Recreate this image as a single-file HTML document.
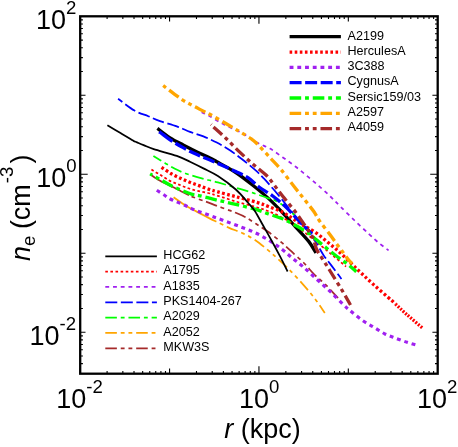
<!DOCTYPE html>
<html><head><meta charset="utf-8"><title>ne profiles</title>
<style>html,body{margin:0;padding:0;background:#fff;}body{width:458px;height:447px;overflow:hidden;font-family:"Liberation Sans",sans-serif;}</style>
</head><body>
<svg width="458" height="447" viewBox="0 0 458 447" style="display:block;will-change:transform;transform:translateZ(0)">
<rect width="458" height="447" fill="#fff"/>
<g fill="none" stroke-linecap="butt" stroke-linejoin="round">
<path d="M157.4,128.4 C159.5,130.0 165.7,135.0 170.1,137.8 C174.5,140.6 179.1,142.8 183.6,145.2 C188.1,147.5 192.6,149.8 197.0,151.9 C201.4,154.0 206.7,156.4 210.0,158.0 C213.3,159.6 212.5,159.3 216.8,161.7 C221.1,164.1 229.4,168.3 235.8,172.5 C242.2,176.7 249.6,182.7 255.0,187.0 C260.4,191.3 263.9,194.3 268.4,198.4 C272.9,202.5 277.3,207.1 281.8,211.8 C286.3,216.5 290.8,221.7 295.3,226.6 C299.8,231.5 305.2,237.0 308.7,241.4 C312.1,245.8 314.8,251.0 316.0,252.9" stroke="#000" stroke-width="3.3"/>
<path d="M210.0,125.8 L212.4,123.5" stroke="#b05050" stroke-width="0.8"/>
<path d="M151.4,169.5 C152.8,170.4 157.1,173.0 160.1,174.8 C163.1,176.7 166.4,179.0 169.5,180.6 C172.6,182.2 175.8,183.3 178.9,184.6 C182.0,185.9 185.2,187.2 188.3,188.3 C191.4,189.4 194.4,190.1 197.7,190.9 C201.0,191.7 204.6,192.2 208.0,193.0 C211.4,193.8 213.3,194.4 217.9,195.8 C222.5,197.2 229.8,199.7 235.8,201.5 C241.8,203.3 248.3,204.8 253.7,206.4 C259.1,208.0 263.2,209.1 268.4,211.2 C273.6,213.3 279.7,216.1 285.0,219.0 C290.3,221.9 294.2,224.5 300.0,228.8 C305.8,233.1 314.2,240.1 320.0,244.8 C325.8,249.6 330.7,253.7 335.0,257.3 C339.3,260.9 344.2,265.1 346.0,266.6" stroke="#f00" stroke-width="1.75" stroke-dasharray="2.70,2.40" stroke-dashoffset="0"/>
<path d="M201.6,112.2 C202.8,112.8 205.3,113.8 209.0,115.8 C212.7,117.8 217.9,121.3 223.6,124.3 C229.3,127.2 237.4,130.4 243.0,133.5 C248.6,136.6 252.5,140.1 257.0,142.6 C261.5,145.1 265.8,146.2 270.0,148.6 C274.2,151.0 278.3,154.3 282.5,157.2 C286.7,160.1 290.8,163.0 295.0,166.2 C299.2,169.4 303.4,172.9 307.6,176.4 C311.8,179.9 316.2,183.7 320.1,187.1 C324.0,190.5 327.6,193.8 330.9,197.0 C334.2,200.2 336.1,202.2 340.0,206.1 C343.9,210.0 349.8,215.8 354.6,220.5 C359.4,225.2 364.9,230.3 369.0,234.1 C373.1,237.9 376.2,240.8 379.5,243.5 C382.8,246.2 387.1,249.2 388.6,250.4" stroke="#a020f0" stroke-width="1.75" stroke-dasharray="3.86,3.86" stroke-dashoffset="0"/>
<path d="M118.1,98.7 C120.8,100.7 129.5,107.7 134.5,110.6 C139.5,113.5 144.1,114.5 148.3,116.2 C152.6,118.0 155.2,119.4 160.0,121.1 C164.8,122.8 171.8,124.6 176.8,126.4 C181.8,128.2 185.6,130.2 190.0,131.9 C194.4,133.6 198.9,134.6 203.4,136.4 C207.9,138.2 212.3,140.2 216.8,142.6 C221.3,144.9 225.8,147.5 230.3,150.5 C234.8,153.5 239.2,157.0 243.7,160.5 C248.2,164.0 253.8,168.7 257.1,171.7 C260.5,174.7 261.6,176.1 263.8,178.4 C266.0,180.7 268.1,183.0 270.4,185.7 C272.7,188.4 275.1,191.1 277.8,194.4 C280.5,197.7 283.2,201.0 286.8,205.5 C290.4,210.0 295.1,216.1 299.3,221.2 C303.5,226.3 308.0,230.4 312.0,236.0 C316.0,241.6 320.1,250.0 323.4,254.9 C326.6,259.8 328.5,261.6 331.5,265.6 C334.5,269.6 339.8,276.8 341.5,279.0" stroke="#00f" stroke-width="1.75" stroke-dasharray="11.98,3.56" stroke-dashoffset="6.5"/>
<path d="M153.4,156.0 C155.4,157.2 161.9,161.3 165.5,163.4 C169.1,165.5 171.6,167.1 174.9,168.8 C178.2,170.5 182.0,172.2 185.6,173.5 C189.2,174.8 192.7,175.7 196.4,176.8 C200.1,177.9 204.4,179.1 208.0,180.0 C211.6,180.9 213.3,181.1 217.9,182.4 C222.5,183.7 229.8,185.9 235.8,187.7 C241.8,189.5 248.5,191.4 253.7,193.1 C258.9,194.8 263.5,196.6 267.1,197.8 C270.7,199.0 271.6,198.5 275.1,200.4 C278.6,202.3 283.9,205.6 288.0,209.0 C292.1,212.4 298.0,219.0 300.0,221.0" stroke="#0f0" stroke-width="1.75" stroke-dasharray="11.58,3.86,3.86,3.86" stroke-dashoffset="2.5"/>
<path d="M173.6,197.3 C174.7,198.1 178.4,200.7 180.3,202.0 C182.2,203.3 182.8,204.0 185.0,205.3 C187.2,206.6 191.2,208.7 193.7,210.0 C196.2,211.3 197.3,212.0 200.0,213.4 C202.7,214.8 207.3,217.2 210.0,218.6 C212.7,220.0 215.3,221.1 216.4,221.6" stroke="#ffa500" stroke-width="1.75"/>
<path d="M216.4,221.6 C218.4,222.6 224.2,225.6 228.6,227.6 C233.0,229.6 238.6,231.3 243.0,233.4 C247.4,235.5 250.7,237.1 255.0,240.0 C259.3,242.9 265.1,247.8 268.9,250.9 C272.7,254.1 274.4,255.7 277.9,258.9 C281.4,262.1 285.8,266.0 290.0,270.3 C294.2,274.6 299.3,280.2 303.4,284.9 C307.5,289.6 311.0,293.6 314.6,298.3 C318.2,303.0 323.1,310.6 324.8,313.0" stroke="#ffa500" stroke-width="1.75" stroke-dasharray="11.58,3.86,3.86,3.86,3.86,3.86" stroke-dashoffset="19.3"/>
<path d="M150.8,174.8 C152.2,175.7 156.7,178.8 159.2,180.3 C161.7,181.8 163.6,182.7 166.0,183.8 C168.4,185.0 170.9,186.0 173.4,187.2 C175.9,188.4 178.4,189.8 181.0,191.2 C183.6,192.5 187.7,194.6 189.0,195.3" stroke="#a52a2a" stroke-width="1.75"/>
<path d="M189.0,195.3 C189.8,195.6 191.5,196.4 193.5,197.2 C195.5,198.0 198.8,199.2 201.0,200.0 C203.2,200.8 203.8,200.8 206.6,201.8 C209.4,202.8 214.0,204.8 217.8,206.2 C221.6,207.6 226.5,209.4 229.3,210.4 C232.1,211.4 232.2,211.3 234.8,212.4 C237.4,213.5 241.5,215.0 245.0,216.9 C248.5,218.8 252.1,221.3 256.0,223.8 C259.9,226.3 263.9,228.7 268.2,231.8 C272.5,235.0 278.2,239.6 281.8,242.7 C285.4,245.8 286.4,246.9 290.0,250.2 C293.6,253.5 299.3,258.4 303.4,262.5 C307.5,266.6 310.9,271.1 314.6,274.8 C318.3,278.5 321.9,281.0 325.8,284.9 C329.7,288.8 336.0,295.8 338.0,298.0" stroke="#a52a2a" stroke-width="1.75" stroke-dasharray="11.58,3.86,3.86,3.86,3.86,3.86" stroke-dashoffset="12.6"/>
<path d="M161.5,167.4 C163.1,168.4 167.8,171.7 170.9,173.5 C174.0,175.3 177.2,176.8 180.3,178.2 C183.4,179.6 186.6,181.0 189.7,182.2 C192.8,183.4 195.9,184.5 199.0,185.6 C202.1,186.7 204.8,187.9 208.0,189.0 C211.2,190.1 213.3,190.6 217.9,191.9 C222.5,193.2 229.3,194.9 235.8,196.7 C242.3,198.4 251.6,200.8 257.0,202.4 C262.4,204.0 264.3,204.9 268.4,206.5 C272.5,208.1 277.8,209.8 281.8,211.8 C285.8,213.8 289.0,216.3 292.6,218.6 C296.2,220.8 299.4,222.9 303.3,225.3 C307.2,227.7 311.9,229.9 316.0,232.8 C320.1,235.7 324.2,239.4 328.1,242.6 C332.0,245.8 334.5,247.6 339.5,252.2 C344.5,256.8 352.6,264.9 358.3,270.3 C364.0,275.7 368.1,279.6 373.6,284.6 C379.1,289.6 387.9,297.1 391.5,300.3 C395.1,303.5 394.8,303.4 395.5,304.0" stroke="#f00" stroke-width="3.3" stroke-dasharray="2.70,2.40" stroke-dashoffset="0"/>
<path d="M395.5,304.0 C397.4,305.8 402.6,310.8 407.1,314.8 C411.7,318.8 420.2,326.0 422.8,328.2" stroke="#f00" stroke-width="3.3" stroke-dasharray="1.95,1.40" stroke-dashoffset="0"/>
<path d="M156.8,190.3 C158.0,191.1 162.0,193.6 164.2,195.0 C166.4,196.4 166.8,197.3 170.2,199.0 C173.5,200.7 180.8,203.4 184.3,205.0 C187.8,206.6 188.4,207.2 191.0,208.4 C193.6,209.6 196.4,210.6 200.0,211.9 C203.6,213.2 208.0,214.8 212.5,216.4 C217.0,218.0 222.0,219.9 226.8,221.7 C231.6,223.5 236.5,225.3 241.2,227.1 C245.9,228.9 250.5,230.5 255.0,232.7 C259.5,234.8 264.0,237.3 268.4,240.0 C272.8,242.7 277.5,246.0 281.5,249.0 C285.5,252.0 288.6,255.0 292.2,258.0 C295.8,261.0 299.3,263.4 303.4,267.0 C307.5,270.6 312.3,275.2 316.8,279.3 C321.3,283.4 325.8,287.3 330.3,291.6 C334.8,295.9 340.2,301.7 343.7,305.0 C347.2,308.3 348.1,308.9 351.2,311.5 C354.3,314.1 358.7,317.8 362.4,320.4 C366.1,323.0 369.9,324.9 373.6,327.1 C377.3,329.3 381.0,331.9 384.7,333.8 C388.4,335.7 392.2,336.9 395.9,338.3 C399.6,339.7 403.7,341.2 407.1,342.3 C410.5,343.4 414.6,344.6 416.1,345.0" stroke="#a020f0" stroke-width="3.15" stroke-dasharray="3.86,3.86" stroke-dashoffset="0"/>
<path d="M159.4,131.8 L163.2,134.7" stroke="#00f" stroke-width="3.3"/>
<path d="M159.4,131.8 C161.2,133.1 166.1,137.1 170.1,139.8 C174.1,142.5 179.1,145.4 183.6,147.9 C188.1,150.4 192.6,152.6 197.0,154.6 C201.4,156.6 205.6,158.1 210.0,160.0 C214.4,161.9 219.3,164.1 223.6,166.0 C227.9,167.9 231.7,169.5 235.8,171.5 C239.9,173.5 244.4,175.3 248.3,177.9 C252.2,180.5 255.0,184.0 259.0,187.0 C263.0,190.0 267.9,192.3 272.4,195.7 C276.9,199.0 281.4,202.8 285.9,207.1 C290.4,211.3 294.9,216.7 299.3,221.2 C303.7,225.7 309.9,231.9 312.0,234.0" stroke="#00f" stroke-width="3.3" stroke-dasharray="11.98,3.56" stroke-dashoffset="11.2"/>
<path d="M150.1,173.9 C151.8,174.8 156.6,177.6 160.1,179.5 C163.6,181.4 167.3,183.8 170.9,185.6 C174.5,187.4 178.0,188.9 181.6,190.3 C185.2,191.8 189.2,193.4 192.3,194.3 C195.4,195.2 195.7,194.8 200.0,195.8 C204.3,196.8 211.9,198.9 217.9,200.3 C223.9,201.7 229.6,202.9 235.8,204.4 C242.0,205.9 249.6,207.6 255.0,209.2 C260.4,210.8 263.9,212.3 268.4,213.9 C272.9,215.5 277.3,216.7 281.8,218.6 C286.3,220.5 290.8,222.9 295.3,225.3 C299.8,227.8 305.1,230.8 308.7,233.3 C312.3,235.8 312.5,236.5 316.8,240.1 C321.1,243.7 329.5,250.6 334.7,254.7 C339.9,258.8 344.6,261.9 348.2,264.7 C351.8,267.5 354.9,270.5 356.3,271.7" stroke="#0f0" stroke-width="3.3" stroke-dasharray="11.58,3.86,3.86,3.86" stroke-dashoffset="9.0"/>
<path d="M163.2,85.5 C164.9,86.8 170.1,91.0 173.4,93.4 C176.7,95.8 180.1,98.3 182.8,100.1 C185.5,101.8 187.5,102.8 189.5,103.9 C191.5,105.0 192.4,105.5 195.0,106.8 C197.6,108.1 202.5,110.8 205.0,112.0 C207.5,113.2 206.3,112.4 209.8,114.3 C213.3,116.2 221.0,120.6 225.9,123.5 C230.8,126.4 235.1,128.9 239.3,131.5 C243.6,134.1 248.4,136.8 251.4,138.9 C254.4,141.0 254.0,140.7 257.1,143.8 C260.2,146.9 266.1,153.4 270.0,157.6 C273.9,161.8 276.7,164.4 280.7,169.2 C284.7,174.0 289.9,181.2 293.9,186.3 C297.9,191.4 301.3,195.6 304.7,199.8 C308.1,204.1 311.6,208.3 314.0,211.8 C316.4,215.3 316.7,216.9 319.4,220.7 C322.1,224.5 327.2,230.9 330.1,234.8 C333.0,238.7 334.9,241.6 336.8,244.2 C338.7,246.8 339.5,247.5 341.5,250.2 C343.5,252.9 347.1,258.1 348.9,260.3 C350.7,262.5 351.7,263.1 352.3,263.6" stroke="#ffa500" stroke-width="3.3" stroke-dasharray="11.58,3.86,3.86,3.86,3.86,3.86" stroke-dashoffset="23.4"/>
<path d="M213.5,127.0 C215.6,128.9 221.5,134.1 225.8,138.2 C230.1,142.3 234.7,147.3 239.2,151.6 C243.7,155.9 248.1,160.0 252.6,163.9 C257.1,167.8 262.2,171.3 266.0,175.0 C269.8,178.7 272.0,182.4 275.1,186.3 C278.2,190.2 281.1,194.2 284.5,198.4 C287.9,202.7 291.9,207.3 295.3,211.8 C298.7,216.3 301.8,221.1 304.7,225.3 C307.6,229.6 310.7,233.3 312.7,237.3 C314.7,241.3 314.9,245.7 316.7,249.5 C318.5,253.3 321.2,256.7 323.4,260.3 C325.6,263.9 327.1,266.1 330.1,271.0 C333.1,275.9 338.1,283.7 341.5,289.4 C344.9,295.1 349.0,302.4 350.5,305.0" stroke="#a52a2a" stroke-width="3.3" stroke-dasharray="11.58,3.86,3.86,3.86,3.86,3.86" stroke-dashoffset="0"/>
<path d="M107.4,125.3 C109.6,126.6 116.7,130.8 120.5,133.1 C124.3,135.4 128.3,137.8 130.5,139.1 C132.7,140.4 132.5,140.4 133.6,141.0 C134.7,141.6 135.3,141.7 137.0,142.4 C138.7,143.1 140.8,144.0 143.6,145.1 C146.4,146.2 148.2,147.4 153.7,149.2 C159.2,151.0 170.8,153.8 176.8,155.9 C182.9,158.0 185.6,159.6 190.0,161.7 C194.4,163.8 198.8,166.0 203.4,168.4 C208.1,170.8 212.5,172.6 217.9,176.1 C223.3,179.6 230.7,185.0 235.8,189.5 C240.9,194.0 245.1,199.4 248.3,203.0 C251.5,206.6 252.6,207.5 255.0,211.2 C257.4,214.9 260.5,221.0 263.0,225.3 C265.5,229.7 267.0,232.2 269.8,237.3 C272.6,242.4 276.8,250.2 279.8,255.9 C282.8,261.6 286.3,268.9 287.6,271.5" stroke="#000" stroke-width="1.75"/>
</g>
<path d="M80.20,373.75 v-5.3 M80.20,16.3 v5.3 M107.10,373.75 v-2.7 M107.10,16.3 v2.7 M122.84,373.75 v-2.7 M122.84,16.3 v2.7 M134.01,373.75 v-2.7 M134.01,16.3 v2.7 M142.67,373.75 v-2.7 M142.67,16.3 v2.7 M149.75,373.75 v-2.7 M149.75,16.3 v2.7 M155.73,373.75 v-2.7 M155.73,16.3 v2.7 M160.91,373.75 v-2.7 M160.91,16.3 v2.7 M165.49,373.75 v-2.7 M165.49,16.3 v2.7 M169.57,373.75 v-5.3 M169.57,16.3 v5.3 M196.48,373.75 v-2.7 M196.48,16.3 v2.7 M212.22,373.75 v-2.7 M212.22,16.3 v2.7 M223.38,373.75 v-2.7 M223.38,16.3 v2.7 M232.05,373.75 v-2.7 M232.05,16.3 v2.7 M239.12,373.75 v-2.7 M239.12,16.3 v2.7 M245.11,373.75 v-2.7 M245.11,16.3 v2.7 M250.29,373.75 v-2.7 M250.29,16.3 v2.7 M254.86,373.75 v-2.7 M254.86,16.3 v2.7 M258.95,373.75 v-7.5 M258.95,16.3 v7.5 M285.85,373.75 v-2.7 M285.85,16.3 v2.7 M301.59,373.75 v-2.7 M301.59,16.3 v2.7 M312.76,373.75 v-2.7 M312.76,16.3 v2.7 M321.42,373.75 v-2.7 M321.42,16.3 v2.7 M328.50,373.75 v-2.7 M328.50,16.3 v2.7 M334.48,373.75 v-2.7 M334.48,16.3 v2.7 M339.66,373.75 v-2.7 M339.66,16.3 v2.7 M344.24,373.75 v-2.7 M344.24,16.3 v2.7 M348.32,373.75 v-5.3 M348.32,16.3 v5.3 M375.23,373.75 v-2.7 M375.23,16.3 v2.7 M390.97,373.75 v-2.7 M390.97,16.3 v2.7 M402.13,373.75 v-2.7 M402.13,16.3 v2.7 M410.80,373.75 v-2.7 M410.80,16.3 v2.7 M417.87,373.75 v-2.7 M417.87,16.3 v2.7 M423.86,373.75 v-2.7 M423.86,16.3 v2.7 M429.04,373.75 v-2.7 M429.04,16.3 v2.7 M433.61,373.75 v-2.7 M433.61,16.3 v2.7 M80.2,363.65 h2.7 M437.7,363.65 h-2.7 M80.2,356.00 h2.7 M437.7,356.00 h-2.7 M80.2,349.74 h2.7 M437.7,349.74 h-2.7 M80.2,344.45 h2.7 M437.7,344.45 h-2.7 M80.2,339.87 h2.7 M437.7,339.87 h-2.7 M80.2,335.83 h2.7 M437.7,335.83 h-2.7 M80.2,332.22 h5.3 M437.7,332.22 h-5.3 M80.2,308.44 h2.7 M437.7,308.44 h-2.7 M80.2,294.54 h2.7 M437.7,294.54 h-2.7 M80.2,284.67 h2.7 M437.7,284.67 h-2.7 M80.2,277.02 h2.7 M437.7,277.02 h-2.7 M80.2,270.76 h2.7 M437.7,270.76 h-2.7 M80.2,265.47 h2.7 M437.7,265.47 h-2.7 M80.2,260.89 h2.7 M437.7,260.89 h-2.7 M80.2,256.85 h2.7 M437.7,256.85 h-2.7 M80.2,253.24 h5.3 M437.7,253.24 h-5.3 M80.2,229.46 h2.7 M437.7,229.46 h-2.7 M80.2,215.56 h2.7 M437.7,215.56 h-2.7 M80.2,205.69 h2.7 M437.7,205.69 h-2.7 M80.2,198.04 h2.7 M437.7,198.04 h-2.7 M80.2,191.78 h2.7 M437.7,191.78 h-2.7 M80.2,186.49 h2.7 M437.7,186.49 h-2.7 M80.2,181.91 h2.7 M437.7,181.91 h-2.7 M80.2,177.87 h2.7 M437.7,177.87 h-2.7 M80.2,174.26 h7.5 M437.7,174.26 h-7.5 M80.2,150.48 h2.7 M437.7,150.48 h-2.7 M80.2,136.58 h2.7 M437.7,136.58 h-2.7 M80.2,126.71 h2.7 M437.7,126.71 h-2.7 M80.2,119.06 h2.7 M437.7,119.06 h-2.7 M80.2,112.80 h2.7 M437.7,112.80 h-2.7 M80.2,107.51 h2.7 M437.7,107.51 h-2.7 M80.2,102.93 h2.7 M437.7,102.93 h-2.7 M80.2,98.89 h2.7 M437.7,98.89 h-2.7 M80.2,95.28 h5.3 M437.7,95.28 h-5.3 M80.2,71.50 h2.7 M437.7,71.50 h-2.7 M80.2,57.60 h2.7 M437.7,57.60 h-2.7 M80.2,47.73 h2.7 M437.7,47.73 h-2.7 M80.2,40.08 h2.7 M437.7,40.08 h-2.7 M80.2,33.82 h2.7 M437.7,33.82 h-2.7 M80.2,28.53 h2.7 M437.7,28.53 h-2.7 M80.2,23.95 h2.7 M437.7,23.95 h-2.7 M80.2,19.91 h2.7 M437.7,19.91 h-2.7" stroke="#000" stroke-width="1.1" fill="none"/>
<rect x="80.2" y="16.3" width="357.5" height="357.4" fill="none" stroke="#000" stroke-width="2.3"/>
<g font-family="'Liberation Sans', sans-serif" fill="#000">
<text x="56.2" y="408.4" font-size="27" text-anchor="start">10<tspan font-size="18.6" dy="-15.0">-2</tspan></text>
<text x="239.0" y="408.4" font-size="27" text-anchor="start">10<tspan font-size="18.6" dy="-15.0">0</tspan></text>
<text x="417.0" y="408.4" font-size="27" text-anchor="start">10<tspan font-size="18.6" dy="-15.0">2</tspan></text>
<text x="36.0" y="29.1" font-size="27" text-anchor="start">10<tspan font-size="18.6" dy="-15.0">2</tspan></text>
<text x="36.2" y="187.0" font-size="27" text-anchor="start">10<tspan font-size="18.6" dy="-15.0">0</tspan></text>
<text x="29.5" y="345.2" font-size="27" text-anchor="start">10<tspan font-size="18.6" dy="-15.0">-2</tspan></text>
<text x="224.2" y="438.1" font-size="27"><tspan font-style="italic">r</tspan> (kpc)</text>
<text transform="translate(29.5,261) rotate(-90)" font-size="27"><tspan font-style="italic">n</tspan><tspan font-size="18.6" dy="5.4">e</tspan><tspan dy="-5.4" dx="-1"> (cm</tspan><tspan font-size="18.6" dy="-16.3" dx="1">-3</tspan><tspan dy="16.3" dx="3.2">)</tspan></text>
<path d="M289.6,36.70 H340.9" stroke="#000" stroke-width="3.3" fill="none"/>
<text x="347.5" y="39.50" font-size="12.6">A2199</text>
<path d="M289.6,52.03 H340.9" stroke="#f00" stroke-width="3.3" fill="none" stroke-dasharray="2.60,2.50"/>
<text x="347.5" y="54.83" font-size="12.6">HerculesA</text>
<path d="M289.6,67.36 H340.9" stroke="#a020f0" stroke-width="3.15" fill="none" stroke-dasharray="3.86,3.86"/>
<text x="347.5" y="70.16" font-size="12.6">3C388</text>
<path d="M289.6,82.69 H340.9" stroke="#00f" stroke-width="3.3" fill="none" stroke-dasharray="11.98,3.56"/>
<text x="347.5" y="85.49" font-size="12.6">CygnusA</text>
<path d="M289.6,98.02 H340.9" stroke="#0f0" stroke-width="3.3" fill="none" stroke-dasharray="11.58,3.86,3.86,3.86"/>
<text x="347.5" y="100.82" font-size="12.6">Sersic159/03</text>
<path d="M289.6,113.35 H340.9" stroke="#ffa500" stroke-width="3.3" fill="none" stroke-dasharray="11.58,3.86,3.86,3.86,3.86,3.86"/>
<text x="347.5" y="116.15" font-size="12.6">A2597</text>
<path d="M289.6,128.68 H340.9" stroke="#a52a2a" stroke-width="3.3" fill="none" stroke-dasharray="11.58,3.86,3.86,3.86,3.86,3.86"/>
<text x="347.5" y="131.48" font-size="12.6">A4059</text>
<path d="M105.3,256.30 H156.9" stroke="#000" stroke-width="1.75" fill="none"/>
<text x="163.3" y="259.10" font-size="12.6">HCG62</text>
<path d="M105.3,271.63 H156.9" stroke="#f00" stroke-width="1.75" fill="none" stroke-dasharray="2.60,2.50"/>
<text x="163.3" y="274.43" font-size="12.6">A1795</text>
<path d="M105.3,286.96 H156.9" stroke="#a020f0" stroke-width="1.75" fill="none" stroke-dasharray="3.86,3.86"/>
<text x="163.3" y="289.76" font-size="12.6">A1835</text>
<path d="M105.3,302.29 H156.9" stroke="#00f" stroke-width="1.75" fill="none" stroke-dasharray="11.98,3.56"/>
<text x="163.3" y="305.09" font-size="12.6">PKS1404-267</text>
<path d="M105.3,317.62 H156.9" stroke="#0f0" stroke-width="1.75" fill="none" stroke-dasharray="11.58,3.86,3.86,3.86"/>
<text x="163.3" y="320.42" font-size="12.6">A2029</text>
<path d="M105.3,332.95 H156.9" stroke="#ffa500" stroke-width="1.75" fill="none" stroke-dasharray="11.58,3.86,3.86,3.86,3.86,3.86"/>
<text x="163.3" y="335.75" font-size="12.6">A2052</text>
<path d="M105.3,348.28 H156.9" stroke="#a52a2a" stroke-width="1.75" fill="none" stroke-dasharray="11.58,3.86,3.86,3.86,3.86,3.86"/>
<text x="163.3" y="351.08" font-size="12.6">MKW3S</text>
</g>
</svg>
</body></html>
